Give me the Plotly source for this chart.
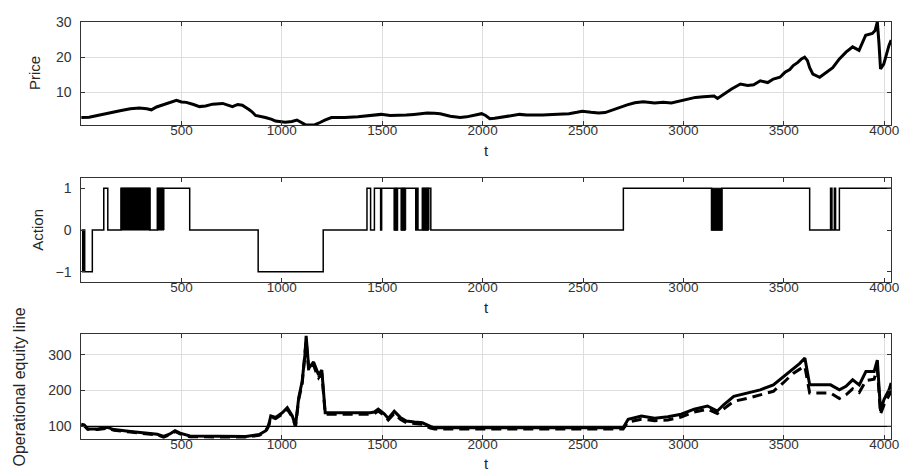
import plotly.graph_objects as go

# ---------------- data ----------------
price_t = [0, 40, 81, 120, 163, 200, 245, 290, 327, 350, 376, 426, 460, 475, 500, 524, 560, 590, 620, 655,
           705, 730, 754, 780, 803, 836, 850, 869, 900, 918, 950, 968, 1017, 1050, 1075, 1095, 1116, 1140,
           1165, 1190, 1214, 1247, 1280, 1313, 1379, 1412, 1450, 1494, 1540, 1576, 1620, 1658, 1724, 1760,
           1789, 1839, 1888, 1920, 1954, 1995, 2015, 2036, 2060, 2102, 2140, 2184, 2220, 2266, 2300, 2348,
           2390, 2430, 2470, 2496, 2540, 2578, 2610, 2644, 2680, 2720, 2758, 2800, 2857, 2900, 2940, 2989,
           3020, 3060, 3100, 3153, 3170, 3200, 3240, 3284, 3320, 3350, 3383, 3420, 3448, 3481, 3506, 3530,
           3547, 3570, 3588, 3604, 3618, 3629, 3645, 3679, 3712, 3744, 3777, 3810, 3843, 3875, 3908, 3941,
           3955, 3966, 3974, 3982, 3998, 4010, 4024, 4035]
price_v = [2.9, 3.0, 3.5, 3.9, 4.5, 4.9, 5.4, 5.6, 5.4, 5.1, 5.9, 6.9, 7.6, 7.8, 7.3, 7.2, 6.6, 6.0, 6.2, 6.7,
           6.9, 6.5, 6.0, 6.6, 6.4, 5.2, 4.6, 3.5, 3.2, 2.9, 2.4, 1.9, 1.6, 1.8, 2.2, 1.6, 0.9, 0.8,
           0.9, 1.5, 2.2, 2.9, 2.8, 2.9, 3.1, 3.3, 3.7, 3.8, 3.5, 3.5, 3.6, 3.8, 4.2, 4.1,
           4.0, 3.3, 2.9, 3.1, 3.5, 4.0, 3.5, 2.6, 2.7, 3.1, 3.4, 3.8, 3.6, 3.5, 3.6, 3.8,
           3.9, 4.0, 4.4, 4.7, 4.4, 4.2, 4.3, 5.0, 5.8, 6.5, 7.1, 7.4, 7.0, 7.2, 7.0, 7.7,
           8.1, 8.6, 8.8, 9.0, 8.3, 9.5, 11.0, 12.4, 12.0, 12.2, 13.3, 12.8, 13.8, 14.3, 15.7, 16.5,
           17.6, 18.5, 19.5, 20.0, 19.0, 17.0, 15.2, 14.3, 15.7, 17.0, 19.5, 21.4, 22.9, 21.9, 26.2, 26.7,
           27.5, 30.0, 24.0, 16.7, 18.0, 20.5, 23.3, 24.8]

action_t = [1, 8, 14, 18, 56, 113, 133, 199, 343, 380, 541, 882, 1206, 1424, 1442, 1461, 1492, 1497, 1560,
            1566, 1570, 1576, 1595, 1600, 1606, 1612, 1667, 1673, 1678, 1700, 1706, 1712, 1720, 1726, 1742,
            2701, 3140, 3192, 3629, 3733, 3740, 3752, 3758, 3777, 4035]
action_v = [0, -1, 0, -1, 0, 1, 0, 1, 0, 1, 0, -1, 0, 1, 0, 1, 0, 1, 0,
            1, 0, 1, 0, 1, 0, 1, 0, 1, 0, 1, 0, 1, 0, 1, 0,
            1, 0, 1, 0, 1, 0, 1, 0, 1, 1]
# intervals of very rapid switching between 0 and 1
dense_start = [199, 380, 1560, 1595, 1700, 3140]
dense_end = [343, 413, 1576, 1617, 1733, 3192]

eq_t = [0, 15, 33, 82, 131, 164, 246, 329, 380, 411, 440, 468, 493, 542, 657, 821, 887, 920, 935, 945,
        969, 1002, 1027, 1052, 1068, 1084, 1101, 1115, 1121, 1134, 1158, 1170, 1183, 1199, 1216, 1440,
        1461, 1480, 1510, 1530, 1560, 1590, 1620, 1660, 1700, 1740, 1760, 2700, 2725, 2791, 2857, 2923,
        2989, 3054, 3120, 3169, 3202, 3251, 3317, 3383, 3448, 3498, 3547, 3580, 3605, 3629, 3733, 3777,
        3810, 3843, 3876, 3909, 3950, 3966, 3982, 3999, 4024, 4035]
eq_solid = [106, 104, 93, 93, 97, 91, 86, 81, 78, 72, 78, 88, 81, 73, 72, 72, 77, 88, 105, 129,
            125, 138, 152, 129, 102, 180, 225, 300, 353, 262, 280, 260, 244, 257, 138, 138,
            140, 148, 135, 122, 142, 125, 115, 112, 110, 100, 96, 96, 120, 129, 123, 127,
            134, 148, 157, 143, 161, 184, 193, 202, 216, 239, 262, 276, 291, 216, 216, 202,
            212, 230, 216, 253, 253, 285, 143, 175, 202, 221]
eq_dashed = [104, 102, 92, 91, 95, 89, 84, 79, 76, 70, 76, 86, 79, 71, 70, 70, 75, 86, 102, 126,
             122, 134, 148, 126, 100, 175, 218, 290, 340, 255, 272, 252, 236, 248, 134, 134,
             136, 143, 130, 118, 136, 120, 110, 108, 106, 95, 93, 93, 112, 120, 116, 118,
             126, 140, 148, 136, 150, 170, 178, 187, 198, 222, 248, 260, 268, 193, 193, 178,
             188, 205, 195, 228, 232, 262, 135, 160, 185, 198]
eq_baseline = 100

x_ticks = [500, 1000, 1500, 2000, 2500, 3000, 3500, 4000]
price_ticks = [10, 20, 30]
action_ticks = [-1, 0, 1]
eq_ticks = [100, 200, 300]

# ---------------- figure ----------------
W, H = 920, 474
X0, X1 = 82, 899
panels = [(14, 119), (172.7, 279), (332, 438.3)]  # top, bottom in px


def ydom(top, bot):
    return [(H - bot) / H, (H - top) / H]


fig = go.Figure()
fig.add_trace(go.Scatter(x=price_t, y=price_v, mode="lines", line=dict(color="black", width=3),
                         xaxis="x", yaxis="y", showlegend=False))

for s, e in zip(dense_start, dense_end):
    fig.add_trace(go.Scatter(x=[s, e, e, s, s], y=[0, 0, 1, 1, 0], mode="lines", fill="toself",
                             fillcolor="black", line=dict(color="black", width=1),
                             xaxis="x2", yaxis="y2", showlegend=False))
fig.add_trace(go.Scatter(x=action_t, y=action_v, mode="lines", line=dict(color="black", width=1.5, shape="hv"),
                         xaxis="x2", yaxis="y2", showlegend=False))

fig.add_trace(go.Scatter(x=[eq_t[0], eq_t[-1]], y=[eq_baseline, eq_baseline], mode="lines",
                         line=dict(color="black", width=1.2), xaxis="x3", yaxis="y3", showlegend=False))
fig.add_trace(go.Scatter(x=eq_t, y=eq_dashed, mode="lines", line=dict(color="black", width=3, dash="10px,6px"),
                         xaxis="x3", yaxis="y3", showlegend=False))
fig.add_trace(go.Scatter(x=eq_t, y=eq_solid, mode="lines", line=dict(color="black", width=3),
                         xaxis="x3", yaxis="y3", showlegend=False))

tickfont = dict(family="Liberation Sans, Arial, sans-serif", size=14, color="#333333")
xtickfont = dict(family="Liberation Sans, Arial, sans-serif", size=13.5, color="#333333")
xdom = [X0 / W, X1 / W]
common_x = dict(domain=xdom, range=[1, 4035], tickvals=x_ticks, ticks="inside", ticklen=4,
                tickcolor="#333333", showline=True, linecolor="#333333", linewidth=1, mirror="ticks",
                tickfont=xtickfont, zeroline=False, gridcolor="#dedede", gridwidth=1,
                ticklabelstandoff=-7)
common_y = dict(ticks="inside", ticklen=4, tickcolor="#333333", showline=True, linecolor="#333333",
                linewidth=1, mirror="ticks", tickfont=tickfont, zeroline=False, gridcolor="#dedede",
                gridwidth=1, ticklabelstandoff=6)

fig.update_layout(
    width=W, height=H, margin=dict(l=0, r=0, t=0, b=0),
    paper_bgcolor="white", plot_bgcolor="white",
    xaxis=dict(common_x, anchor="y", showgrid=True),
    yaxis=dict(common_y, domain=ydom(*panels[0]), anchor="x", range=[0.8, 30], tickvals=price_ticks, showgrid=True),
    xaxis2=dict(common_x, anchor="y2", showgrid=False),
    yaxis2=dict(common_y, domain=ydom(*panels[1]), anchor="x2", range=[-1.25, 1.25], tickvals=action_ticks, showgrid=False),
    xaxis3=dict(common_x, anchor="y3", showgrid=True),
    yaxis3=dict(common_y, domain=ydom(*panels[2]), anchor="x3", range=[65, 357], tickvals=eq_ticks, showgrid=True),
)

ylabels = [("Price", 35, 15), ("Action", 37, 15), ("Operational equity line", 20, 16)]
for (txt, xpx, fs), (top, bot) in zip(ylabels, panels):
    labfont = dict(family="Liberation Sans, Arial, sans-serif", size=fs, color="#262626")
    fig.add_annotation(text=txt, x=xpx / W, y=(H - (top + bot) / 2) / H, xref="paper", yref="paper",
                       textangle=-90, showarrow=False, font=labfont, xanchor="center", yanchor="middle")
    fig.add_annotation(text="t", x=(X0 + X1) / 2 / W, y=(H - (bot + 25.5)) / H, xref="paper", yref="paper",
                       showarrow=False, font=dict(labfont, size=15), xanchor="center", yanchor="middle")

fig.write_html("out.html")
